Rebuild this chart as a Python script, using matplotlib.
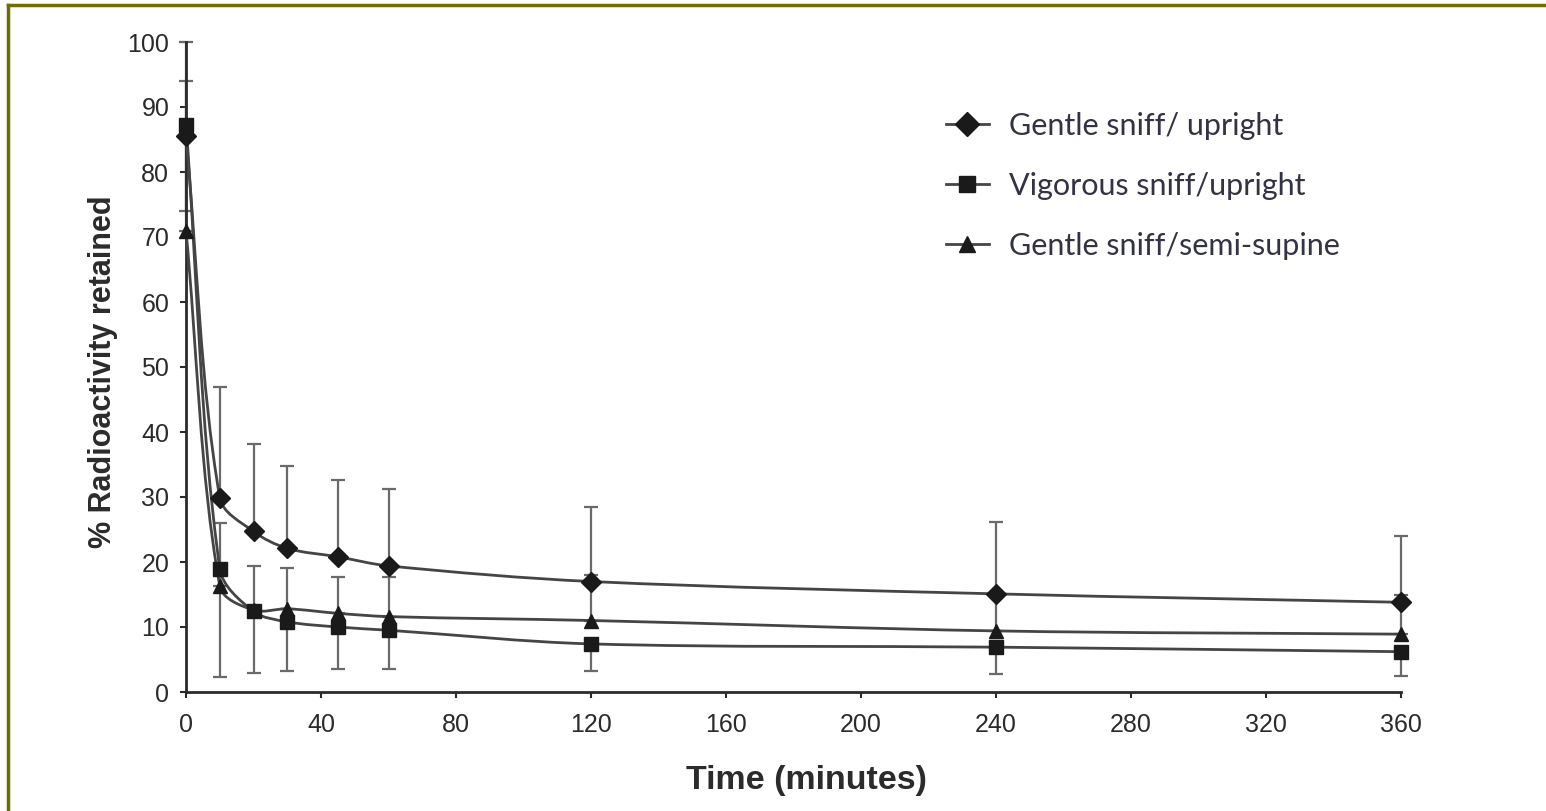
import numpy as np
import matplotlib
matplotlib.use("Agg")
import matplotlib.pyplot as plt
from matplotlib.path import Path
from matplotlib.patches import PathPatch
from matplotlib.lines import Line2D

# ---------------- data ----------------
time_min = [0, 10, 20, 30, 45, 60, 120, 240, 360]

gentle_upright = [85.5, 29.9, 24.7, 22.1, 20.8, 19.4, 17.0, 15.1, 13.8]
gentle_upright_err = [14.5, 17.0, 13.4, 12.6, 11.8, 11.8, 11.4, 11.1, 10.2]   # shown upward

vigorous_upright = [87.3, 19.0, 12.4, 10.8, 10.0, 9.5, 7.4, 6.9, 6.2]
vigorous_upright_err = [13.3, 16.7, 9.5, 7.6, 6.4, 5.9, 4.2, 4.2, 3.8]         # shown downward

semi_supine = [71.0, 16.3, 12.6, 12.8, 12.1, 11.6, 11.0, 9.4, 8.9]
semi_supine_err = [23.0, 9.7, 6.8, 6.3, 5.6, 6.1, 7.0, 6.0, 6.0]              # shown upward

labels = ["Gentle sniff/ upright", "Vigorous sniff/upright", "Gentle sniff/semi-supine"]
markers = ["D", "s", "^"]
x_ticks = [0, 40, 80, 120, 160, 200, 240, 280, 320, 360]
y_ticks = [0, 10, 20, 30, 40, 50, 60, 70, 80, 90, 100]

# ---------------- figure ----------------
W, H = 1546, 811
fig = plt.figure(figsize=(W / 100, H / 100), dpi=100)
L, R, B, T = 186, 1401, 692, 42
ax = fig.add_axes([L / W, 1 - B / H, (R - L) / W, (B - T) / H])
ax.set_xlim(0, 360)
ax.set_ylim(0, 100)

ink = "#2b2b2b"
line_col = "#454545"
err_col = "#6a6a6a"


def smooth_path(xs, ys, k=1.0 / 3.0):
    """Smoothed line through the points (cubic Bezier built in screen space)."""
    P = ax.transData.transform(np.column_stack([xs, ys]).astype(float))
    n = len(P)
    seg = [np.hypot(*(P[i + 1] - P[i])) for i in range(n - 1)]

    def tangent(i):
        a = P[i - 1] if i > 0 else P[i]
        b = P[i + 1] if i < n - 1 else P[i]
        return b - a

    def ctrl_len(i, side):
        prev = seg[i - 1] if i > 0 else 0.0
        nxt = seg[i] if i < n - 1 else 0.0
        tot = prev + nxt
        if tot == 0:
            return 0.0
        return k * (nxt if side == "next" else prev) / tot

    verts = [P[0]]
    codes = [Path.MOVETO]
    for i in range(n - 1):
        c1 = P[i] + tangent(i) * ctrl_len(i, "next")
        c2 = P[i + 1] - tangent(i + 1) * ctrl_len(i + 1, "prev")
        verts += [c1, c2, P[i + 1]]
        codes += [Path.CURVE4] * 3
    verts = ax.transData.inverted().transform(np.array(verts))
    return Path(verts, codes)


series = [
    (gentle_upright, gentle_upright_err, "up"),
    (vigorous_upright, vigorous_upright_err, "down"),
    (semi_supine, semi_supine_err, "up"),
]

for (vals, err, direction), mk in zip(series, markers):
    zeros = [0] * len(err)
    yerr = [zeros, err] if direction == "up" else [err, zeros]
    eb = ax.errorbar(time_min, vals, yerr=yerr, fmt="none", ecolor=err_col,
                     elinewidth=1.6, capsize=5, capthick=1.6, zorder=2)
    for art in eb.lines[1] + eb.lines[2]:
        art.set_clip_on(False)
    ax.add_patch(PathPatch(smooth_path(time_min, vals), facecolor="none",
                           edgecolor=line_col, lw=2.0, zorder=3, clip_on=False))
    ax.plot(time_min, vals, linestyle="none", marker=mk, ms=10,
            color="#1a1a1a", mec="#1a1a1a", zorder=4, clip_on=False)

ax.set_xticks(x_ticks)
ax.set_yticks(y_ticks)
ax.tick_params(direction="out", length=4, width=1.5, colors=ink, labelsize=18)
ax.tick_params(axis="x", pad=11)
ax.tick_params(axis="y", pad=8)
for lab in ax.get_xticklabels() + ax.get_yticklabels():
    lab.set_family("Liberation Sans")
for sp in ["top", "right"]:
    ax.spines[sp].set_visible(False)
for sp in ["left", "bottom"]:
    ax.spines[sp].set_linewidth(2)
    ax.spines[sp].set_color(ink)

ax.set_xlabel("Time (minutes)", family="Liberation Sans", fontweight="bold",
              fontsize=24.5, color=ink, va="center")
ax.xaxis.set_label_coords((806 - L) / (R - L), -(780 - B) / (B - T))
ax.set_ylabel("% Radioactivity retained", family="Liberation Sans",
              fontweight="bold", fontsize=22, color=ink, va="center")
ax.yaxis.set_label_coords((103 - L) / (R - L), (B - 372) / (B - T))

handles = [Line2D([], [], color=line_col, lw=2, marker=m, ms=12,
                  mfc="#1a1a1a", mec="#1a1a1a") for m in markers]
leg = ax.legend(handles, labels, loc="upper left",
                bbox_to_anchor=(946 / W, 1 - 112 / H), bbox_transform=fig.transFigure,
                frameon=False, prop={"family": "Lato", "size": 22},
                handlelength=1.4, handletextpad=0.65, labelspacing=1.05,
                borderpad=0, borderaxespad=0)
for t in leg.get_texts():
    t.set_color("#333344")

# olive frame (top and left edges)
olive = "#6e6e00"
fig.add_artist(Line2D([8 / W, 1], [1 - 5 / H, 1 - 5 / H], transform=fig.transFigure,
                      color=olive, lw=2.5))
fig.add_artist(Line2D([8 / W, 8 / W], [0, 1 - 5 / H], transform=fig.transFigure,
                      color=olive, lw=2.5))

fig.savefig("out.png", dpi=100)
